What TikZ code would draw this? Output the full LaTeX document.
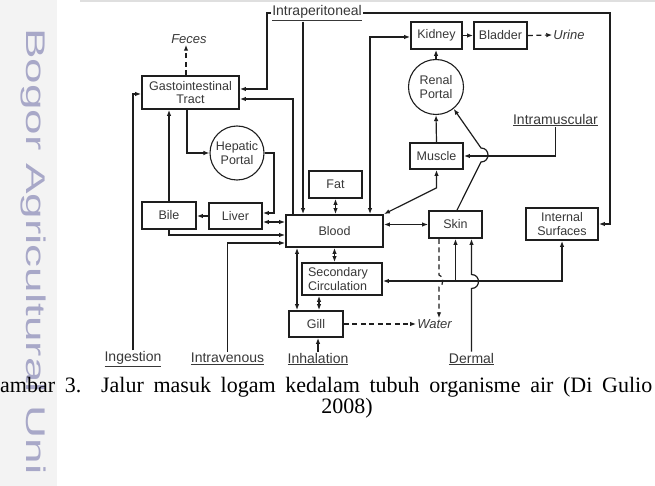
\documentclass[tikz,border=0pt]{standalone}
\usepackage{fontspec}
\usepackage{graphicx}
\setmainfont{Liberation Serif}
\setsansfont{Liberation Sans}
\usetikzlibrary{arrows.meta}
\definecolor{ln}{HTML}{1E1E1E}
\definecolor{tx}{HTML}{383838}
\definecolor{wm}{RGB}{168,168,200}
\definecolor{strip}{HTML}{F3F3F3}
\begin{document}
\begin{tikzpicture}[x=1pt,y=-1pt,
  box/.style={draw=ln, line width=1.8pt, inner sep=0pt, align=center, text=tx, font=\sffamily\fontsize{12.5}{13.5}\selectfont},
  circ/.style={circle, draw=ln, line width=1.1pt, inner sep=0pt, minimum size=54pt, align=center, text=tx, font=\sffamily\fontsize{12.5}{13.5}\selectfont},
  lab/.style={inner sep=1pt, text=tx, font=\sffamily\fontsize{14}{16}\selectfont},
  ital/.style={inner sep=1pt, text=tx, font=\sffamily\itshape\fontsize{13}{15}\selectfont},
  con/.style={draw=ln, line width=1.2pt},
  arr/.style={con, -{Latex[length=6pt,width=4.5pt]}},
  darr/.style={con, {Latex[length=6pt,width=4.5pt]}-{Latex[length=6pt,width=4.5pt]}},
  dsh/.style={con, dash pattern=on 5pt off 3.5pt},
  dsharr/.style={dsh, -{Latex[length=6pt,width=4.5pt]}},
]
\useasboundingbox (0,0) rectangle (655,486);
\fill[white] (0,0) rectangle (655,486);
\fill[strip] (0,0) rectangle (57,486);
\fill[gray!25] (80,0) rectangle (655,2);

% watermark
\node[rotate=-90, anchor=west, inner sep=0pt, text=wm, font=\sffamily\fontsize{27}{27}\selectfont] (wmk) at (33,28) {\scalebox{1.7}[1]{Bogor Agricultural Uni}};

% boxes
\node[box, minimum width=97pt, minimum height=33pt] (gi) at (190.5,92.5) {Gastointestinal\\Tract};
\node[circ] (hep) at (237,153) {Hepatic\\Portal};
\node[box, minimum width=54pt, minimum height=27pt] (bile) at (169,215.5) {Bile};
\node[box, minimum width=53pt, minimum height=26pt] (liver) at (235.5,216) {Liver};
\node[box, minimum width=97pt, minimum height=32pt] (blood) at (334.5,231) {Blood};
\node[box, minimum width=53pt, minimum height=27pt] (fat) at (335.5,184.5) {Fat};
\node[box, minimum height=32pt, inner xsep=6pt, text width=68pt, align=left] (sec) at (342,279) {Secondary\\Circulation};
\node[box, minimum width=54pt, minimum height=26pt] (gill) at (316,324) {Gill};
\node[box, minimum width=53pt, minimum height=27pt] (skin) at (455.5,224.5) {Skin};
\node[box, minimum width=72pt, minimum height=32pt] (isurf) at (562,224) {Internal\\Surfaces};
\node[box, minimum width=51pt, minimum height=27pt] (kidney) at (436.5,35.5) {Kidney};
\node[box, minimum width=53pt, minimum height=27pt] (bladder) at (500.5,35.5) {Bladder};
\node[circ, minimum size=55pt] (renal) at (436,87) {Renal\\Portal};
\node[box, minimum width=53pt, minimum height=26pt] (muscle) at (436.5,156) {Muscle};

% labels
\node[lab] (ip) at (317,13) {\underline{Intraperitoneal}};
\node[lab] (im) at (555.5,120) {\underline{Intramuscular}};
\node[lab] (ing) at (133,359) {\underline{Ingestion}};
\node[lab] (iv) at (227.5,359) {\underline{Intravenous}};
\node[lab] (inh) at (318,359) {\underline{Inhalation}};
\node[lab] (derm) at (471.5,359) {\underline{Dermal}};
\node[ital] (feces) at (189,39) {Feces};
\node[ital] (urine) at (569,35) {Urine};
\node[ital] (water) at (434.5,324) {Water};

% connectors
\draw[arr] (ing.north) |- ([yshift=-1.5pt]gi.west);
\draw[arr] (bile.north) -- (bile.north |- gi.south);
\draw[arr] ([xshift=-3.5pt]gi.south) |- (hep.west);
\draw[arr] (hep.east) -| ([xshift=11pt,yshift=3pt]liver.east) -- ([yshift=3pt]liver.east);
\draw[darr] ([yshift=-6pt]liver.east) -- ([yshift=-6pt]liver.east -| blood.west);
\draw[arr] (liver.west) -- (liver.west -| bile.east);
\draw[arr] (bile.south) |- ([yshift=-4pt]blood.west);
\draw[arr] (iv.north) |- ([yshift=-12pt]blood.west);
\draw[arr] (ip.west) -| ([xshift=27pt,yshift=3.5pt]gi.east) -- ([yshift=3.5pt]gi.east);
\draw[arr] ([xshift=-14pt]ip.south) -- ([xshift=-14pt]ip.south |- blood.north);
\draw[arr] (ip.east) -| ([xshift=11pt]isurf.east) -- (isurf.east);
\draw[arr] ([xshift=-41.5pt]blood.north) |- ([yshift=-6.5pt]gi.east);
\draw[darr] ([xshift=35.5pt]blood.north) |- ([yshift=-1.5pt]kidney.west);
\draw[darr] (fat.south) -- (fat.south |- blood.north);
\draw[darr] (blood.south) -- (blood.south |- sec.north);
\draw[darr] ([xshift=-37.5pt]blood.south) -- ([xshift=-37.5pt]blood.south |- gill.north);
\draw[darr] ([xshift=3pt]gill.north |- sec.south) -- ([xshift=3pt]gill.north);
\draw[arr] (inh.north) -- (inh.north |- gill.south);
\draw[dsharr] (gill.east) -- (water.west);
\draw[darr] (blood.east |- skin.west) -- (skin.west);
\draw[darr] (blood.north east) -- ([yshift=-18pt]muscle.south) -- (muscle.south);
\draw[arr] (im.south) |- (muscle.east);
\draw[arr] (muscle.north) -- (renal.south);
\draw[arr] (renal.north) -- (renal.north |- kidney.south);
\draw[arr] (kidney.east) -- (bladder.west);
\draw[dsharr] (bladder.east) -- (urine.west);
\draw[dsharr] ([xshift=-4.5pt]gi.north) -- ([xshift=-4.5pt]gi.north |- feces.south);
\draw[arr] ([xshift=1.5pt]skin.north) -- (481,162) .. controls (490.3,162) and (490.3,148) .. (481,148) -- (renal.-51);
\draw[arr] (derm.north) -- (471.5,288.5) .. controls (480.8,288.5) and (480.8,274.5) .. (471.5,274.5) -- (derm.north |- skin.south);
\draw[darr] (isurf.south) |- ([yshift=-2pt]sec.east);
\draw[arr] (skin.south |- 0,281) -- (skin.south);
\draw[dsharr] ([xshift=-16.5pt]skin.south) -- (439,275) .. controls (444,275) and (444,287) .. (439,287) -- ([xshift=-16.5pt]skin.south |- water.north);

% caption
\node[anchor=west, inner sep=0pt, font=\rmfamily\fontsize{22}{24}\selectfont] (cap1) at (0,387) {\makebox[652pt][s]{ambar 3. Jalur masuk logam kedalam tubuh organisme air (Di Gulio}};
\node[inner sep=0pt, font=\rmfamily\fontsize{22}{24}\selectfont] (cap2) at (347,408) {2008)};
\end{tikzpicture}
\end{document}
